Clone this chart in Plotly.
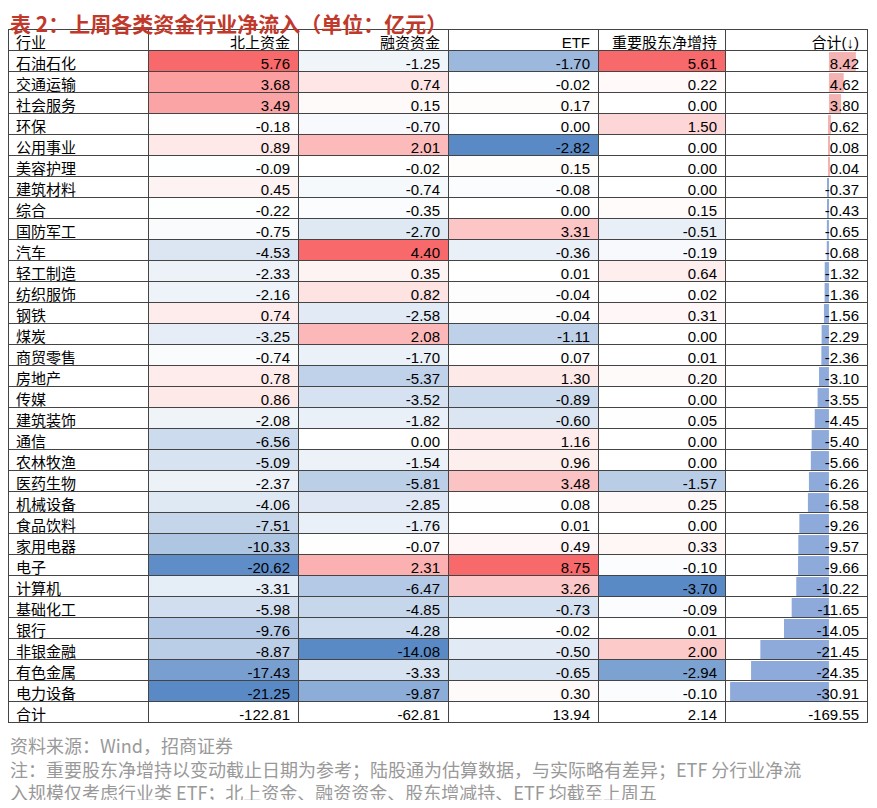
import plotly.graph_objects as go

industries = ["石油石化","交通运输","社会服务","环保","公用事业","美容护理","建筑材料","综合","国防军工","汽车",
"轻工制造","纺织服饰","钢铁","煤炭","商贸零售","房地产","传媒","建筑装饰","通信","农林牧渔","医药生物",
"机械设备","食品饮料","家用电器","电子","计算机","基础化工","银行","非银金融","有色金属","电力设备"]
north = [5.76,3.68,3.49,-0.18,0.89,-0.09,0.45,-0.22,-0.75,-4.53,-2.33,-2.16,0.74,-3.25,-0.74,0.78,0.86,-2.08,-6.56,-5.09,-2.37,-4.06,-7.51,-10.33,-20.62,-3.31,-5.98,-9.76,-8.87,-17.43,-21.25]
margin = [-1.25,0.74,0.15,-0.70,2.01,-0.02,-0.74,-0.35,-2.70,4.40,0.35,0.82,-2.58,2.08,-1.70,-5.37,-3.52,-1.82,0.00,-1.54,-5.81,-2.85,-1.76,-0.07,2.31,-6.47,-4.85,-4.28,-14.08,-3.33,-9.87]
etf = [-1.70,-0.02,0.17,0.00,-2.82,0.15,-0.08,0.00,3.31,-0.36,0.01,-0.04,-0.04,-1.11,0.07,1.30,-0.89,-0.60,1.16,0.96,3.48,0.08,0.01,0.49,8.75,3.26,-0.73,-0.02,-0.50,-0.65,0.30]
holder = [5.61,0.22,0.00,1.50,0.00,0.00,0.00,0.15,-0.51,-0.19,0.64,0.02,0.31,0.00,0.01,0.20,0.00,0.05,0.00,0.00,-1.57,0.25,0.00,0.33,-0.10,-3.70,-0.09,0.01,2.00,-2.94,-0.10]
total = [8.42,4.62,3.80,0.62,0.08,0.04,-0.37,-0.43,-0.65,-0.68,-1.32,-1.36,-1.56,-2.29,-2.36,-3.10,-3.55,-4.45,-5.40,-5.66,-6.26,-6.58,-9.26,-9.57,-9.66,-10.22,-11.65,-14.05,-21.45,-24.35,-30.91]
sum_row = ["合计","-122.81","-62.81","13.94","2.14","-169.55"]
headers = ["行业","北上资金","融资资金","ETF","重要股东净增持","合计(↓)"]

RED = (248,105,107); BLUE = (90,138,198)
def colors(vals):
    mx = max(vals); mn = min(vals); out = []
    for v in vals:
        if v >= 0:
            t = v/mx if mx else 0; c = RED
        else:
            t = v/mn; c = BLUE
        r,g,b = [round(255+(ci-255)*t) for ci in c]
        out.append(f"rgb({r},{g},{b})")
    return out + ["white"]

W, H = 861, 792
fmt = lambda a: [f"{v:.2f}" for v in a]
cells = [industries+[sum_row[0]], fmt(north)+[sum_row[1]], fmt(margin)+[sum_row[2]],
         fmt(etf)+[sum_row[3]], fmt(holder)+[sum_row[4]], fmt(total)+[sum_row[5]]]
fills = [["white"]*32, colors(north), colors(margin), colors(etf), colors(holder), ["rgba(0,0,0,0)"]*32]

ROW = 21
top = 21
widths = [140,150,150,150,127,142]
fig = go.Figure()
fig.add_trace(go.Bar(
    x=total, y=list(range(len(total))), orientation="h",
    marker=dict(color=["#f4b3b3" if v >= 0 else "#8eaadb" for v in total], line_width=0),
    width=0.9, hoverinfo="skip", xaxis="x", yaxis="y"))
fig.add_trace(go.Table(
    domain=dict(x=[0, sum(widths)/W], y=[0, 1-top/H]),
    columnwidth=widths,
    header=dict(values=headers, height=ROW, fill_color="white",
                align=["left"]+["right"]*5, line=dict(color="#444", width=1),
                font=dict(family="Liberation Sans, Noto Sans CJK SC", size=15, color="black")),
    cells=dict(values=cells, height=ROW, fill_color=fills,
               align=["left"]+["right"]*5, line=dict(color="#444", width=1),
               font=dict(family="Liberation Sans, Noto Sans CJK SC", size=15, color="black"))))

y_top = 1-(top+ROW+1)/H
y_bot = 1-(top+ROW*32+1)/H
x0 = sum(widths[:5])/W
fig.update_layout(
    width=W, height=H, margin=dict(l=0,r=0,t=0,b=0),
    paper_bgcolor="white", plot_bgcolor="rgba(0,0,0,0)", showlegend=False,
    xaxis=dict(domain=[x0, sum(widths)/W], range=[-32.5, 11.9], visible=False, fixedrange=True),
    yaxis=dict(domain=[y_bot, y_top], range=[30.5, -0.5], visible=False, fixedrange=True),
    annotations=[
        dict(text="<b>表 2：上周各类资金行业净流入（单位：亿元）</b>", x=0, y=1+2/H, xref="paper", yref="paper",
             xanchor="left", yanchor="top", showarrow=False,
             font=dict(family="Noto Sans CJK SC", size=21, color="#c0392b")),
        dict(text="资料来源：Wind，招商证券", x=0, y=1-722/H, xref="paper", yref="paper",
             xanchor="left", yanchor="top", showarrow=False,
             font=dict(family="Noto Sans CJK SC", size=18, color="#999")),
        dict(text="注：重要股东净增持以变动截止日期为参考；陆股通为估算数据，与实际略有差异；ETF 分行业净流", x=0, y=1-746/H,
             xref="paper", yref="paper", xanchor="left", yanchor="top", showarrow=False,
             font=dict(family="Noto Sans CJK SC", size=18, color="#999")),
        dict(text="入规模仅考虑行业类 ETF；北上资金、融资资金、股东增减持、ETF 均截至上周五", x=0, y=1-769/H,
             xref="paper", yref="paper", xanchor="left", yanchor="top", showarrow=False,
             font=dict(family="Noto Sans CJK SC", size=18, color="#999")),
    ])
fig.write_html("out.html")
